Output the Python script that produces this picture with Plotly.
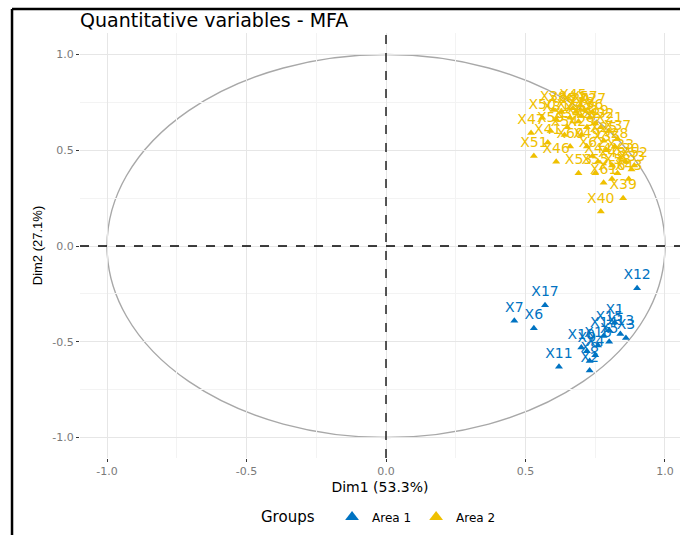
import plotly.graph_objects as go

# ---- data ----
area1_labels = ["X1", "X2", "X3", "X4", "X5", "X6", "X7", "X8", "X9", "X10",
                "X11", "X12", "X13", "X14", "X15", "X16", "X17"]
area1_dim1 = [0.82, 0.73, 0.86, 0.75, 0.80, 0.53, 0.46, 0.73, 0.72, 0.70,
              0.62, 0.90, 0.84, 0.78, 0.80, 0.76, 0.57]
area1_dim2 = [-0.40, -0.65, -0.48, -0.57, -0.50, -0.43, -0.39, -0.60, -0.55, -0.53,
              -0.63, -0.22, -0.46, -0.47, -0.44, -0.52, -0.31]

area2_labels = ["X18", "X19", "X20", "X21", "X22", "X23", "X24", "X25", "X26", "X27",
                "X28", "X29", "X30", "X31", "X32", "X33", "X34", "X35", "X36", "X37",
                "X38", "X39", "X40", "X41", "X42", "X43", "X44", "X45", "X46", "X47",
                "X48", "X49", "X50", "X51", "X52", "X53", "X54", "X55", "X56", "X57",
                "X58", "X59", "X60", "X61", "X62"]
area2_dim1 = [0.70, 0.75, 0.68, 0.80, 0.72, 0.84, 0.66, 0.78, 0.63, 0.74,
              0.82, 0.70, 0.86, 0.61, 0.77, 0.88, 0.65, 0.79, 0.73, 0.83,
              0.60, 0.85, 0.77, 0.58, 0.69, 0.87, 0.76, 0.67, 0.61, 0.52,
              0.81, 0.72, 0.56, 0.53, 0.89, 0.69, 0.64, 0.75, 0.81, 0.71,
              0.83, 0.59, 0.66, 0.78, 0.74]
area2_dim2 = [0.68, 0.64, 0.70, 0.60, 0.62, 0.46, 0.67, 0.55, 0.70, 0.70,
              0.52, 0.58, 0.44, 0.66, 0.62, 0.40, 0.62, 0.50, 0.67, 0.56,
              0.71, 0.25, 0.18, 0.54, 0.65, 0.35, 0.44, 0.72, 0.44, 0.59,
              0.42, 0.52, 0.67, 0.47, 0.42, 0.38, 0.58, 0.38, 0.35, 0.71,
              0.38, 0.60, 0.52, 0.33, 0.47]

group_names = ["Area 1", "Area 2"]
group_colors = ["#0073C2", "#EFC000"]

x_ticks = [-1.0, -0.5, 0.0, 0.5, 1.0]
y_ticks = [-1.0, -0.5, 0.0, 0.5, 1.0]
tick_text = ["-1.0", "-0.5", "0.0", "0.5", "1.0"]

FONT = "DejaVu Sans, Liberation Sans, Arial"

fig = go.Figure()

for name, color, xs, ys, labs in [
    (group_names[0], group_colors[0], area1_dim1, area1_dim2, area1_labels),
    (group_names[1], group_colors[1], area2_dim1, area2_dim2, area2_labels),
]:
    fig.add_trace(go.Scatter(
        x=xs, y=ys, mode="markers+text", text=labs,
        textposition="top center",
        textfont=dict(family=FONT, size=14, color=color),
        marker=dict(symbol="triangle-up", size=7, color=color),
        name=name, cliponaxis=False,
    ))

# correlation circle
fig.add_shape(type="circle", xref="x", yref="y", x0=-1, y0=-1, x1=1, y1=1,
              line=dict(color="#A8A8A8", width=1.4), layer="below")
# dashed axes
fig.add_shape(type="line", xref="x", yref="paper", x0=0, x1=0, y0=0, y1=1,
              line=dict(color="black", width=1.3, dash="dash"))
fig.add_shape(type="line", xref="paper", yref="y", x0=0, x1=1, y0=0, y1=0,
              line=dict(color="black", width=1.3, dash="dash"))
# frame lines (left and top)
fig.add_shape(type="line", xref="paper", yref="paper", x0=-0.1133, x1=-0.1133,
              y0=-0.19, y1=1.0565, line=dict(color="black", width=2.5))
fig.add_shape(type="line", xref="paper", yref="paper", x0=-0.1133, x1=1.02,
              y0=1.0565, y1=1.0565, line=dict(color="black", width=2.5))

axis_common = dict(
    showgrid=True, gridcolor="#E6E6E6", gridwidth=1,
    zeroline=False, showline=False,
    ticks="outside", ticklen=3, tickcolor="#333333", tickwidth=1,
    tickfont=dict(family=FONT, size=11, color="#7A7A7A"),
    minor=dict(dtick=0.25, showgrid=True, gridcolor="#F3F3F3", gridwidth=1),
)

fig.update_xaxes(range=[-1.0968, 1.0538], tickvals=x_ticks, ticktext=tick_text,
                 title=dict(text="Dim1 (53.3%)", standoff=4,
                            font=dict(family=FONT, size=14, color="black")),
                 **axis_common)
fig.update_yaxes(range=[-1.107, 1.1123], tickvals=y_ticks, ticktext=tick_text,
                 title=dict(text="Dim2 (27.1%)", standoff=6,
                            font=dict(family="Liberation Sans, Arial", size=13, color="black")),
                 **axis_common)

fig.update_layout(
    width=680, height=535,
    margin=dict(l=80, r=0, t=33, b=77),
    paper_bgcolor="white", plot_bgcolor="white",
    title=dict(text="Quantitative variables - MFA", x=80/680, xanchor="left",
               y=1 - 20/535, yanchor="middle",
               font=dict(family=FONT, size=19, color="black")),
    showlegend=True,
    legend=dict(orientation="h", x=0.5, xanchor="center", y=-0.14, yanchor="middle",
                title=dict(text="Groups  ", font=dict(family=FONT, size=15, color="black")),
                font=dict(family=FONT, size=12, color="black"),
                itemsizing="constant"),
)

fig.write_html("out.html")
